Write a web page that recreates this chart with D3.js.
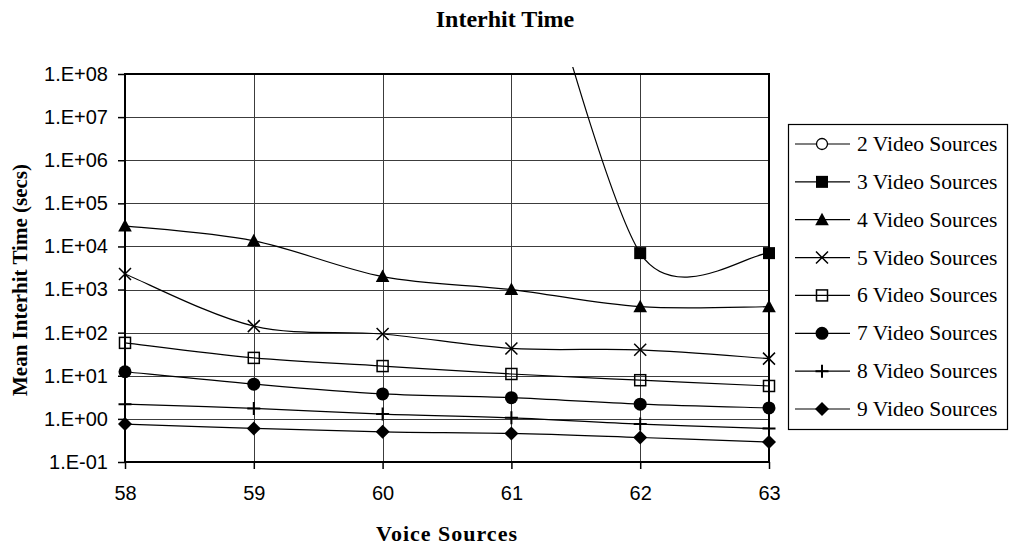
<!DOCTYPE html>
<html>
<head>
<meta charset="utf-8">
<script src="https://cdn.jsdelivr.net/npm/d3@7"></script>
<style>
  html, body { margin: 0; padding: 0; background: #fff; }
  svg { display: block; }
</style>
</head>
<body>
<svg id="chart" width="1010" height="549"></svg>
<script>
(function () {
  // ---- data ----
  const voiceSources = [58, 59, 60, 61, 62, 63];
  const seriesNames = ['2 Video Sources', '3 Video Sources', '4 Video Sources', '5 Video Sources',
                       '6 Video Sources', '7 Video Sources', '8 Video Sources', '9 Video Sources'];
  // 2 video: all points above the top of the axis, nothing shows
  const video2 = [null, null, null, null, null, null];
  // 3 video: 61 is far above the plot (only its curve shows)
  const video3 = [null, null, null, 1e13, 7000, 7000];
  const video4 = [30000, 13500, 2000, 1000, 400, 400];
  const video5 = [2300, 142, 93, 43, 40, 25];
  const video6 = [58, 26, 16.8, 11, 7.9, 5.8];
  const video7 = [12.4, 6.4, 3.8, 3.1, 2.2, 1.8];
  const video8 = [2.2, 1.75, 1.29, 1.06, 0.76, 0.6];
  const video9 = [0.76, 0.6, 0.5, 0.46, 0.37, 0.29];
  const yTickValues = [1e-1, 1e0, 1e1, 1e2, 1e3, 1e4, 1e5, 1e6, 1e7, 1e8];
  const yTickLabels = ['1.E-01', '1.E+00', '1.E+01', '1.E+02', '1.E+03', '1.E+04', '1.E+05', '1.E+06', '1.E+07', '1.E+08'];

  const allSeries = [video2, video3, video4, video5, video6, video7, video8, video9];
  const markerKinds = ['circleOpen', 'squareFill', 'triangle', 'ex', 'squareOpen', 'circleFill', 'plus', 'diamond'];

  const plot = { left: 125, right: 769, top: 74, bottom: 462 };
  const svg = d3.select('#chart');

  const x = d3.scaleLinear().domain([58, 63]).range([plot.left, plot.right]);
  const y = d3.scaleLog().domain([1e-1, 1e8]).range([plot.bottom, plot.top]);

  const SERIF = '"Liberation Serif", "Times New Roman", serif';
  const SANS = '"Liberation Sans", Arial, sans-serif';

  // title
  svg.append('text')
    .attr('x', 505).attr('y', 27)
    .attr('text-anchor', 'middle')
    .style('font-family', SERIF).style('font-weight', 'bold').style('font-size', '24px')
    .text('Interhit Time');

  // gridlines
  const grid = svg.append('g').attr('shape-rendering', 'crispEdges');
  grid.selectAll('line.h').data(yTickValues).join('line')
    .attr('class', 'h')
    .attr('x1', plot.left).attr('x2', plot.right)
    .attr('y1', d => Math.round(y(d)) + 0.5).attr('y2', d => Math.round(y(d)) + 0.5)
    .attr('stroke', '#3c3c3c').attr('stroke-width', 1);
  grid.selectAll('line.v').data(voiceSources).join('line')
    .attr('class', 'v')
    .attr('x1', d => Math.round(x(d)) + 0.5).attr('x2', d => Math.round(x(d)) + 0.5)
    .attr('y1', plot.top).attr('y2', plot.bottom)
    .attr('stroke', '#3c3c3c').attr('stroke-width', 1);

  // axes
  const yAxis = d3.axisLeft(y)
    .tickValues(yTickValues)
    .tickFormat((d, i) => yTickLabels[i])
    .tickSizeInner(7).tickSizeOuter(0).tickPadding(10);
  const gy = svg.append('g').attr('transform', `translate(${plot.left},0)`).call(yAxis);
  gy.select('.domain').remove();
  gy.selectAll('text').style('font-family', SANS).style('font-size', '20px').attr('fill', '#000');
  gy.selectAll('line').attr('stroke', '#000').attr('stroke-width', 1.5);

  const xAxis = d3.axisBottom(x)
    .tickValues(voiceSources)
    .tickFormat(d3.format('d'))
    .tickSizeInner(7).tickSizeOuter(0).tickPadding(17);
  const gx = svg.append('g').attr('transform', `translate(0,${plot.bottom})`).call(xAxis);
  gx.select('.domain').remove();
  gx.selectAll('text').style('font-family', SANS).style('font-size', '20px').attr('fill', '#000');
  gx.selectAll('line').attr('stroke', '#000').attr('stroke-width', 1.5);

  // plot frame
  svg.append('rect')
    .attr('x', plot.left).attr('y', plot.top)
    .attr('width', plot.right - plot.left).attr('height', plot.bottom - plot.top)
    .attr('fill', 'none').attr('stroke', '#000').attr('stroke-width', 2);

  // axis titles
  svg.append('text')
    .attr('x', 447).attr('y', 541)
    .attr('text-anchor', 'middle')
    .style('font-family', SERIF).style('font-weight', 'bold').style('font-size', '22px')
    .style('letter-spacing', '1px')
    .text('Voice Sources');
  svg.append('text')
    .attr('transform', 'translate(27,280) rotate(-90)')
    .attr('text-anchor', 'middle')
    .style('font-family', SERIF).style('font-weight', 'bold').style('font-size', '21px')
    .text('Mean Interhit Time (secs)');

  // smoothed line in the spirit of a spreadsheet "smoothed line"
  function smoothPath(pts) {
    const p = d3.path();
    const dist = (a, b) => Math.hypot(a[0] - b[0], a[1] - b[1]);
    const tang = pts.map((pt, i) => {
      const prev = pts[Math.max(0, i - 1)], next = pts[Math.min(pts.length - 1, i + 1)];
      let f = 1 / 6;
      if (i > 0 && i < pts.length - 1) {
        const d02 = dist(prev, next);
        if (d02 > 0) f = Math.min(f, 0.5 * Math.min(dist(prev, pt), dist(pt, next)) / d02);
      }
      return [(next[0] - prev[0]) * f, (next[1] - prev[1]) * f];
    });
    p.moveTo(pts[0][0], pts[0][1]);
    for (let i = 0; i < pts.length - 1; i++) {
      const a = pts[i], b = pts[i + 1];
      p.bezierCurveTo(a[0] + tang[i][0], a[1] + tang[i][1],
                      b[0] - tang[i + 1][0], b[1] - tang[i + 1][1], b[0], b[1]);
    }
    return p.toString();
  }

  svg.append('clipPath').attr('id', 'plotClip')
    .append('rect').attr('x', plot.left).attr('y', 67)
    .attr('width', plot.right - plot.left + 1).attr('height', plot.bottom - 67);

  const linesG = svg.append('g').attr('clip-path', 'url(#plotClip)');
  allSeries.forEach(vals => {
    const pts = voiceSources.map((v, i) => vals[i] == null ? null : [x(v), y(vals[i])]).filter(Boolean);
    if (pts.length < 2) return;
    linesG.append('path')
      .attr('d', smoothPath(pts))
      .attr('fill', 'none').attr('stroke', '#000').attr('stroke-width', 1.2);
  });

  function drawMarker(g, kind) {
    switch (kind) {
      case 'circleOpen':
        g.append('circle').attr('r', 5.5).attr('fill', '#fff').attr('stroke', '#000').attr('stroke-width', 1.3); break;
      case 'circleFill':
        g.append('circle').attr('r', 6.5).attr('fill', '#000'); break;
      case 'squareFill':
        g.append('rect').attr('x', -6).attr('y', -6).attr('width', 12).attr('height', 12).attr('fill', '#000'); break;
      case 'squareOpen':
        g.append('rect').attr('x', -5.5).attr('y', -5.5).attr('width', 11).attr('height', 11)
          .attr('fill', 'none').attr('stroke', '#000').attr('stroke-width', 1.5); break;
      case 'triangle':
        g.append('path').attr('d', 'M0,-7L6.8,5.5L-6.8,5.5Z').attr('fill', '#000'); break;
      case 'ex':
        g.append('path').attr('d', 'M-6,-6L6,6M-6,6L6,-6').attr('stroke', '#000').attr('stroke-width', 1.5); break;
      case 'plus':
        g.append('path').attr('d', 'M-6.5,0L6.5,0M0,-6.5L0,6.5').attr('stroke', '#000').attr('stroke-width', 2); break;
      case 'diamond':
        g.append('path').attr('d', 'M0,-7L7,0L0,7L-7,0Z').attr('fill', '#000'); break;
    }
  }

  const markersG = svg.append('g');
  allSeries.forEach((vals, s) => {
    voiceSources.forEach((v, i) => {
      const val = vals[i];
      if (val == null || val > 1e8 || val < 1e-1) return;
      const g = markersG.append('g').attr('transform', `translate(${x(v)},${y(val)})`);
      drawMarker(g, markerKinds[s]);
    });
  });

  // legend
  const legend = svg.append('g');
  legend.append('rect')
    .attr('x', 788.5).attr('y', 124.5).attr('width', 219).attr('height', 305)
    .attr('fill', '#fff').attr('stroke', '#000').attr('stroke-width', 1.2);
  const rowY = d3.scalePoint().domain(seriesNames).range([144, 409]);
  seriesNames.forEach((name, s) => {
    const cy = rowY(name);
    const row = legend.append('g');
    row.append('line').attr('x1', 795).attr('x2', 850).attr('y1', cy).attr('y2', cy)
      .attr('stroke', '#000').attr('stroke-width', 1.2);
    drawMarker(row.append('g').attr('transform', `translate(822,${cy})`), markerKinds[s]);
    row.append('text')
      .attr('x', 857).attr('y', cy + 7)
      .style('font-family', SERIF).style('font-size', '21.5px')
      .text(name);
  });
})();
</script>
</body>
</html>
